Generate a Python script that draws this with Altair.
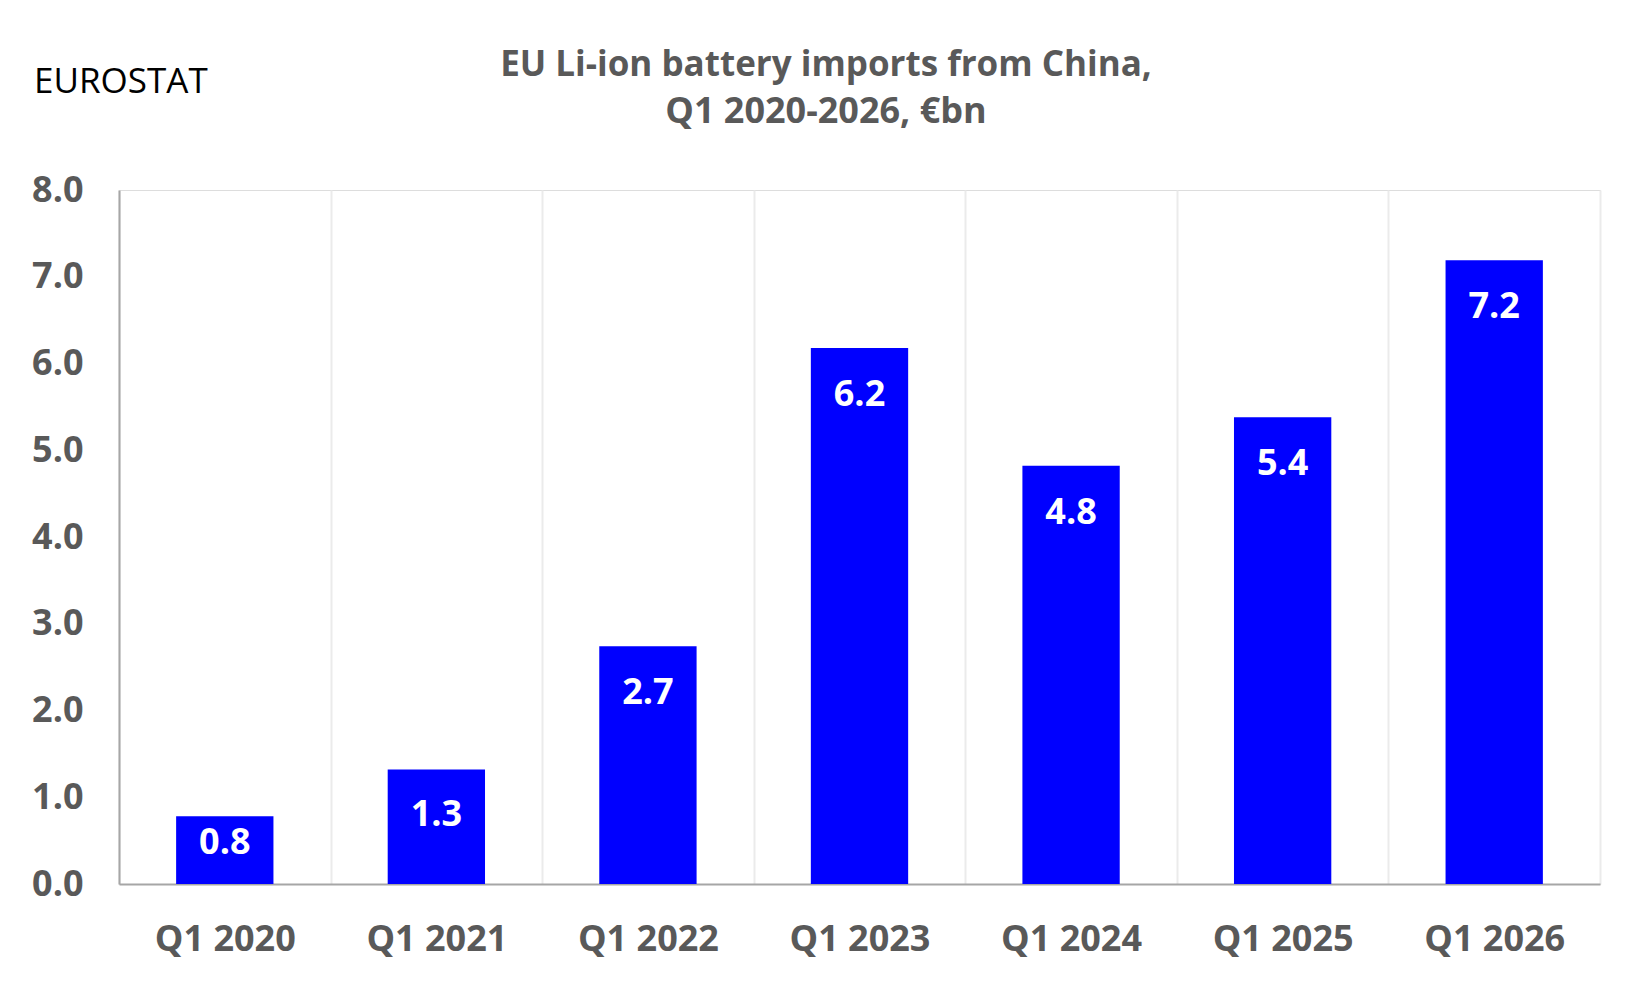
import altair as alt
import pandas as pd

quarters = ["Q1 2020", "Q1 2021", "Q1 2022", "Q1 2023", "Q1 2024", "Q1 2025", "Q1 2026"]
values = [0.78, 1.32, 2.74, 6.18, 4.82, 5.38, 7.19]
labels = ["0.8", "1.3", "2.7", "6.2", "4.8", "5.4", "7.2"]
title_lines = ["EU Li-ion battery imports from China,", "Q1 2020-2026, €bn"]
source = "EUROSTAT"

df = pd.DataFrame({"q": quarters, "v": values, "lab": labels})

FONT = "Open Sans"
GREY = "#595959"

x = alt.X("q:N", sort=quarters, title=None,
          scale=alt.Scale(paddingInner=0, paddingOuter=0),
          axis=alt.Axis(labelAngle=0, labelFont=FONT, labelFontSize=36, labelFontWeight="bold",
                        labelColor=GREY, labelPadding=38, ticks=False, tickBand="extent",
                        grid=True, gridColor="#EBEBEB", gridWidth=2,
                        domainColor="#A6A6A6", domainWidth=2))
y = alt.Y("v:Q", title=None,
          scale=alt.Scale(domain=[0, 8], nice=False),
          axis=alt.Axis(values=[0, 1, 2, 3, 4, 5, 6, 7, 8], format=".1f", labelFont=FONT,
                        labelFontSize=36, labelFontWeight="bold", labelColor=GREY,
                        labelPadding=36, ticks=False, grid=False,
                        domainColor="#A6A6A6", domainWidth=2))

bars = alt.Chart(df).mark_bar(color="#0000FF", width=alt.RelativeBandSize(0.46)).encode(x=x, y=y)

text = alt.Chart(df).transform_calculate(
    ly="max(datum.v - 0.54, datum.v * 0.6)"
).mark_text(font=FONT, fontSize=36, fontWeight="bold", color="white", baseline="middle").encode(
    x=alt.X("q:N", sort=quarters),
    y=alt.Y("ly:Q"),
    text="lab:N",
)

src = alt.Chart(pd.DataFrame({"t": [source]})).mark_text(
    font=FONT, fontSize=35, color="black", align="left", baseline="middle"
).encode(x=alt.value(-85), y=alt.value(-108), text="t:N")

t1 = alt.Chart(pd.DataFrame({"t": [title_lines[0]]})).mark_text(
    font=FONT, fontSize=35, fontWeight="bold", color=GREY, align="center", baseline="middle"
).encode(x=alt.value(707), y=alt.value(-125), text="t:N")

t2 = alt.Chart(pd.DataFrame({"t": [title_lines[1]]})).mark_text(
    font=FONT, fontSize=36, fontWeight="bold", color=GREY, align="center", baseline="middle"
).encode(x=alt.value(707), y=alt.value(-78), text="t:N")

chart = alt.layer(bars, text, src, t1, t2).properties(
    width=1481,
    height=694,
    padding={"left": 111, "top": 182, "right": 30, "bottom": 90},
    autosize=alt.AutoSizeParams(type="none"),
).configure_view(strokeWidth=0, stroke="transparent").configure(background="white")

chart.save("out.html", embed_options={"renderer": "svg", "actions": False})
